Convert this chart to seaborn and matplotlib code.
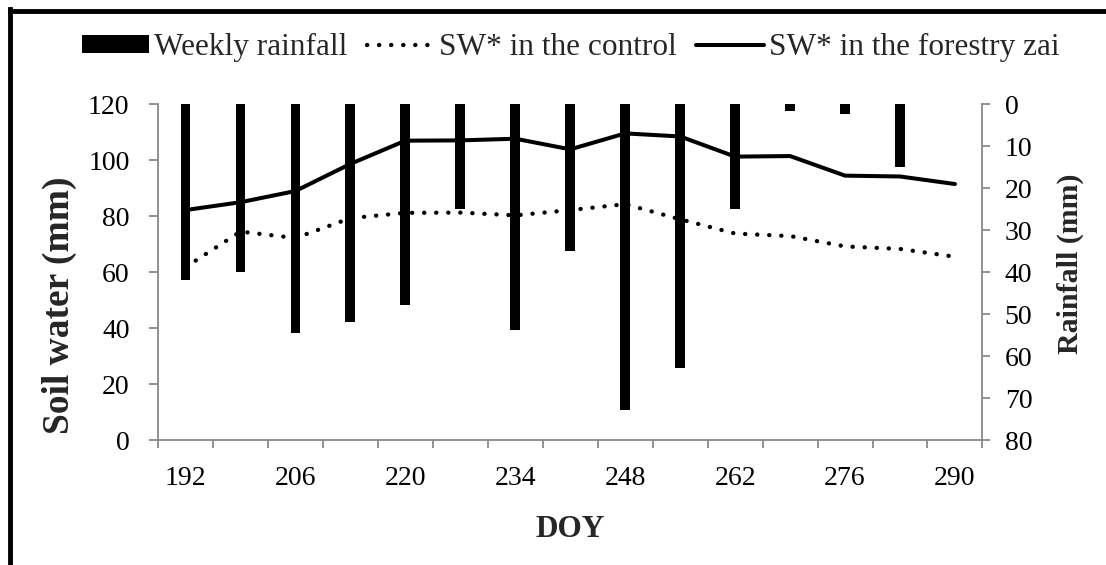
import numpy as np
import pandas as pd
import matplotlib
matplotlib.use("Agg")
import matplotlib.pyplot as plt
from matplotlib.lines import Line2D
from matplotlib.patches import Patch
import seaborn as sns

# ---- data ----
doy = [192, 199, 206, 213, 220, 227, 234, 241, 248, 255, 262, 269, 276, 283, 290]
rainfall = [41.8, 40.0, 54.4, 51.9, 47.9, 24.9, 53.8, 34.9, 72.9, 62.9, 24.9, 1.6, 2.4, 14.9, 0.0]
sw_control = [61.8, 74.5, 72.2, 79.3, 81.2, 81.3, 80.3, 82.2, 84.3, 78.9, 73.8, 72.9, 69.2, 68.3, 65.5]
sw_zai = [82.2, 85.0, 89.0, 98.7, 107.0, 107.1, 107.7, 103.9, 109.6, 108.5, 101.3, 101.5, 94.5, 94.2, 91.5]
x_labels = [str(d) for d in doy[::2]]

sns.set_theme(style="white")
plt.rcParams['font.family'] = ['Liberation Serif', 'DejaVu Serif']
FS = 20
GRAY = "#898989"
DOTS = (0.05, 2.75)

df = pd.DataFrame({"pos": np.arange(len(doy)), "doy": doy, "rain": rainfall,
                   "ctrl": sw_control, "zai": sw_zai})

fig = plt.figure(figsize=(11.06, 5.65), dpi=100)
ax = fig.add_axes([0.1429, 0.2212, 0.7454, 0.5942])
ax2 = ax.twinx()

# bars on secondary (inverted) axis
sns.barplot(data=df, x="pos", y="rain", ax=ax2, color="black", width=0.18,
            saturation=1, native_scale=True, edgecolor="none")
ax2.set_ylim(80, 0)

# lines on primary axis
sns.lineplot(data=df, x="pos", y="zai", ax=ax, color="black", lw=2.9)
sns.lineplot(data=df, x="pos", y="ctrl", ax=ax, color="black", lw=3.1)
ctrl_line = ax.lines[-1]
ctrl_line.set_dashes(DOTS)
ctrl_line.set_dash_capstyle("round")
ax.set_zorder(ax2.get_zorder() + 1)
ax.patch.set_visible(False)

ax.set_ylim(0, 120)
ax.set_yticks(np.arange(0, 121, 20))
ax2.set_yticks(np.arange(0, 81, 10))
ax.set_xlim(-0.5, len(doy) - 0.5)
ax.set_xticks(np.arange(len(doy))[::2])
ax.set_xticklabels(x_labels)
ax.set_xticks(np.arange(-0.5, len(doy), 1), minor=True)

for a in (ax, ax2):
    for s in a.spines.values():
        s.set_visible(False)
ax.spines["left"].set_visible(True)
ax.spines["bottom"].set_visible(True)
ax2.spines["right"].set_visible(True)
for s in (ax.spines["left"], ax.spines["bottom"], ax2.spines["right"]):
    s.set_color(GRAY)
    s.set_linewidth(1.3)

ax.tick_params(axis="y", which="major", direction="out", length=6.5, width=1.3,
               color=GRAY, labelsize=FS, labelcolor="black", pad=14, left=True)
ax2.tick_params(axis="y", which="major", direction="out", length=5.5, width=1.3,
                color=GRAY, labelsize=FS, labelcolor="black", pad=10.5, right=True)
ax.tick_params(axis="x", which="major", length=0, labelsize=FS, pad=19,
               labelcolor="black")
ax.tick_params(axis="x", which="minor", direction="out", length=6, width=1.3,
               color=GRAY, bottom=True)
ax.grid(False)
ax2.grid(False)

ax.set_xlabel("DOY", fontsize=22.5, fontweight="bold", labelpad=17)
ax.set_ylabel("Soil water (mm)", fontsize=27, fontweight="bold")
ax2.set_ylabel("Rainfall (mm)", fontsize=21.5, fontweight="bold")
ax.yaxis.set_label_coords(-0.098, 0.40)
ax2.yaxis.set_label_coords(1.0905, 0.526)

handles = [Patch(facecolor="black", edgecolor="none"),
           Line2D([], [], color="black", lw=3.1, dashes=DOTS, dash_capstyle="round"),
           Line2D([], [], color="black", lw=2.9)]
labels = ["Weekly rainfall", "SW* in the control", "SW* in the forestry zai"]
fig.legend(handles, labels, loc="center", bbox_to_anchor=(0.516, 0.916), ncol=3,
           frameon=False, fontsize=22.5, handlelength=2.15, handleheight=0.48,
           handletextpad=0.16, columnspacing=0.62)

# figure frame (left and top edges)
fig.add_artist(Line2D([10 / 1106, 10 / 1106], [0, 1 - 9 / 565], transform=fig.transFigure,
                      color="black", lw=3.5, solid_capstyle="projecting"))
fig.add_artist(Line2D([10 / 1106, 1], [1 - 11 / 565, 1 - 11 / 565], transform=fig.transFigure,
                      color="black", lw=3.5, solid_capstyle="projecting"))

fig.savefig("out.png", dpi=100)
